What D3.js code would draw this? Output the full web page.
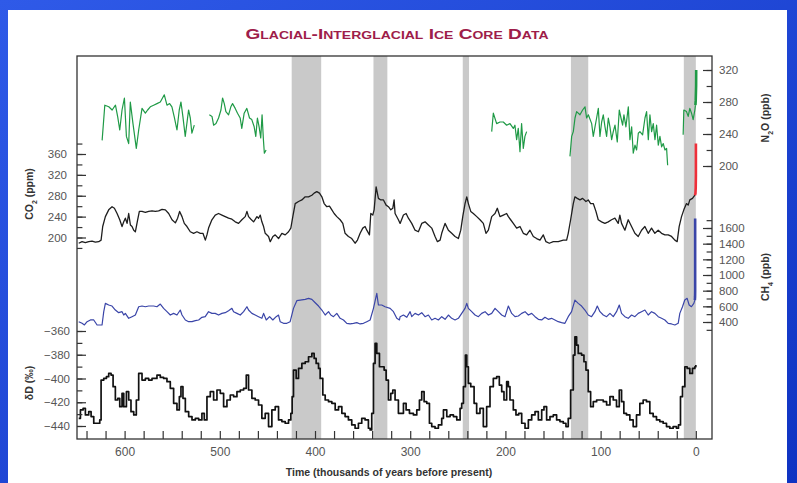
<!DOCTYPE html>
<html>
<head>
<meta charset="utf-8">
<script src="https://cdn.jsdelivr.net/npm/d3@7"></script>
<style>
  body { margin: 0; background: #1c3fd0; }
  svg { display: block; }
  text { font-family: "Liberation Sans", Arial, Helvetica, sans-serif; }
</style>
</head>
<body>
<svg id="chart" width="797" height="483"></svg>
<script>
// ---- Ice core records: [age (kyr BP), value] ----

// Atmospheric CO2 (ppm)
const co2 = [
[648.2,189],[644.7,192],[641.2,190],[637.7,192],[634.2,193],[630.7,191],[627.2,192],[624.7,195],[623.0,221],[620.2,240],[616.7,253],[613.2,259],[610.7,256],[607.9,246],[605.1,234],[602.7,221],[600.9,230],[599.2,237],[597.4,227],[595.7,246],[593.9,224],[592.2,221],[590.4,214],[588.7,211],[586.3,234],[584.5,250],[581.7,250],[578.2,248],[574.7,250],[571.2,251],[567.7,250],[564.2,251],[560.7,254],[557.2,253],[553.7,246],[550.2,234],[546.7,228],[544.3,237],[542.2,250],[539.7,240],[537.3,227],[534.5,221],[531.0,211],[527.5,208],[524.0,211],[520.5,208],[517.7,208],[515.2,195],[513.5,205],[511.8,218],[508.3,234],[504.8,243],[501.3,246],[497.8,243],[494.3,240],[490.8,237],[487.3,235],[483.8,230],[480.3,227],[476.8,234],[473.3,240],[471.5,250],[469.8,240],[467.3,235],[464.5,230],[461.0,240],[459.3,237],[457.5,243],[455.8,230],[454.0,221],[452.3,208],[448.8,202],[447.0,192],[444.2,202],[441.8,205],[438.3,198],[434.8,208],[431.3,205],[427.8,211],[425.4,218],[423.3,240],[420.8,265],[417.3,269],[413.8,272],[410.3,278],[406.8,278],[403.3,281],[400.9,285],[398.1,288],[395.3,285],[392.8,278],[390.4,265],[387.6,259],[384.8,260],[382.3,253],[379.9,246],[377.1,240],[373.6,234],[370.8,227],[368.4,208],[364.9,202],[361.4,198],[357.9,189],[355.4,195],[352.6,208],[349.8,218],[347.4,221],[345.6,214],[342.8,205],[341.4,246],[339.3,243],[337.9,253],[335.8,297],[333.4,275],[330.9,272],[328.1,272],[325.3,262],[322.9,259],[320.4,253],[318.3,256],[316.9,272],[315.9,246],[312.4,234],
[310.6,227],[307.1,243],[304.3,246],[301.9,237],[298.4,227],[294.9,214],[291.4,211],[287.9,227],[284.4,230],[280.9,224],[277.4,218],[273.9,202],[271.4,192],[268.6,195],[266.9,208],[263.4,227],[259.9,214],[256.4,208],[252.9,202],[249.4,198],[246.9,214],[244.8,240],[242.4,265],[240.6,278],[238.9,265],[236.4,250],[233.7,246],[230.1,240],[226.7,234],[223.2,227],[220.4,208],[217.9,214],[214.4,240],[210.9,246],[208.5,256],[205.7,240],[202.2,243],[198.7,246],[196.9,240],[194.5,234],[191.7,227],[188.2,218],[184.7,221],[181.2,208],[177.7,205],[174.2,214],[170.7,202],[167.2,198],[163.7,195],[160.2,205],[157.4,192],[153.9,189],[149.7,192],[144.5,192],[139.2,195],[135.7,195],[134.0,208],[131.5,234],[128.7,265],[127.0,278],[124.5,275],[121.7,272],[118.9,275],[115.4,269],[113.0,272],[110.5,265],[107.7,265],[104.9,250],[102.5,234],[99.0,230],[95.5,227],[92.0,230],[88.5,234],[85.0,237],[81.5,227],[79.8,243],[78.0,227],[74.5,214],[71.0,234],[67.5,221],[64.0,208],[60.5,202],[57.0,214],[53.5,221],[50.0,208],[46.5,218],[43.0,208],[39.5,214],[36.0,208],[32.5,205],[29.0,205],[25.5,202],[22.0,195],[19.6,192],[17.5,221],[15.0,240],[12.6,253],[9.8,265],[8.0,262],[6.3,272],[3.5,275],[1.0,281]
];
// Industrial-era CO2 (ppm)
const co2Recent = [[1.0,281],[0.4,284],[0.1,295],[-0.1,320],[-0.1,380]];

// Atmospheric CH4 (ppb)
const ch4 = [
[648.2,404],[644.7,383],[642.2,362],[639.4,404],[635.9,426],[632.4,426],[628.9,362],[623.7,362],[621.9,532],[620.2,638],[616.7,617],[613.2,604],[609.7,553],[606.2,519],[602.7,532],[600.9,489],[599.2,510],[595.7,447],[592.2,468],[588.7,489],[585.2,595],[581.7,604],[578.2,595],[574.7,604],[569.5,604],[566.0,595],[562.5,629],[559.0,574],[555.5,532],[552.0,489],[548.5,510],[545.0,489],[541.5,553],[539.7,489],[536.2,426],[532.7,404],[529.2,404],[525.7,417],[522.2,426],[518.8,460],[515.3,468],[511.8,532],[508.3,510],[504.8,510],[501.3,489],[497.8,510],[494.3,519],[490.8,545],[487.3,574],[485.5,532],[482.0,510],[478.5,489],[475.0,532],[471.5,595],[469.8,553],[466.3,510],[462.8,489],[459.3,468],[455.8,447],[454.0,510],[451.2,426],[447.7,468],[444.3,426],[440.8,468],[438.3,489],[436.6,404],[433.1,383],[429.6,383],[426.1,404],[422.6,574],[419.1,672],[415.6,680],[410.3,689],[406.8,702],[403.3,689],[399.8,646],[396.3,604],[392.8,553],[389.3,489],[385.8,532],[383.4,489],[380.6,468],[377.1,510],[373.6,447],[370.1,426],[366.6,383],[363.1,375],[359.6,383],[356.1,392],[352.6,375],[349.1,383],[345.6,404],[342.1,426],[338.6,574],[335.1,765],[333.4,617],[329.9,617],[326.4,595],[321.1,574],[317.6,532],[314.1,447],[311.3,426],
[310.6,468],[307.1,489],[303.6,460],[300.1,532],[298.4,468],[294.9,510],[291.4,489],[287.9,519],[284.4,468],[280.9,489],[277.4,426],[273.9,447],[270.4,426],[266.9,468],[263.4,434],[259.9,489],[256.4,447],[252.9,426],[249.4,447],[245.9,510],[242.4,574],[240.6,638],[238.9,574],[235.4,532],[231.9,489],[228.4,468],[224.9,510],[221.4,532],[217.9,489],[214.4,510],[210.9,574],[207.4,532],[203.9,489],[200.4,468],[196.9,604],[193.4,510],[189.9,468],[186.4,477],[182.9,510],[179.4,532],[175.9,489],[172.4,510],[168.9,468],[165.4,434],[161.9,426],[158.5,460],[155.0,434],[151.5,447],[148.0,426],[144.5,404],[141.0,392],[137.5,383],[134.0,468],[130.5,532],[127.0,680],[123.5,638],[120.0,604],[116.5,553],[113.0,489],[109.5,468],[106.0,532],[103.5,604],[100.7,532],[97.2,489],[93.7,468],[90.2,510],[86.7,468],[83.3,532],[80.4,617],[78.0,510],[74.5,468],[71.0,447],[67.5,489],[64.0,468],[60.5,510],[57.0,532],[53.5,553],[50.0,489],[46.5,532],[43.0,510],[39.5,468],[36.0,447],[32.5,426],[29.0,383],[25.5,375],[22.0,362],[18.5,383],[16.8,510],[14.0,595],[11.6,680],[9.1,702],[7.0,617],[4.6,595],[2.1,638],[1.0,680]
];
// Industrial-era CH4 (ppb)
const ch4Recent = [[1.0,680],[0.8,720],[0.7,800],[0.7,1720]];

// Atmospheric N2O (ppb); null marks a gap in the record
const n2o = [
[623.6,232],[620.8,276],[616.6,274],[613.1,270],[609.6,276],[607.2,261],[605.1,245],[602.7,270],[600.2,285],[598.1,237],[595.7,228],[594.0,280],[591.2,253],[587.7,222],[585.2,245],[581.7,272],[578.2,266],[575.8,270],[573.0,274],[569.5,276],[566.0,278],[562.5,280],[558.3,289],[555.5,276],[552.7,278],[550.3,274],[547.8,261],[545.0,245],[542.6,270],[540.8,280],[538.7,261],[536.3,237],[532.8,270],[531.0,260],[529.3,241],[526.8,251],
null,
[511.0,264],[508.2,262],[506.5,251],[504.0,253],[501.3,260],[498.8,270],[497.1,285],[495.3,278],[493.6,268],[490.8,264],[488.4,274],[486.6,278],[483.8,272],[481.4,266],[478.6,260],[476.9,247],[474.4,266],[471.6,272],[468.8,260],[466.4,258],[463.9,249],[462.2,237],[460.5,260],[458.7,249],[457.0,235],[455.6,264],[454.2,233],[453.2,216],[451.4,220],
null,
[214.4,243],[212.7,266],[209.2,253],[205.7,255],[202.2,255],[198.7,251],[195.2,253],[191.7,247],[190.0,251],[188.2,233],[186.5,247],[184.7,218],[183.0,253],[181.2,222],[179.5,237],[177.7,243],
null,
[132.2,212],[130.4,237],[128.7,243],[126.9,260],[125.2,268],[121.7,264],[118.9,270],[116.4,274],[114.7,260],[112.9,264],[109.4,253],[107.7,237],[105.9,249],[104.2,260],[102.4,272],[100.7,237],[98.9,255],[97.2,264],[95.4,249],[93.7,237],[91.9,260],[90.2,249],[88.4,233],[86.7,243],[84.9,251],[82.5,230],[80.4,270],[78.6,260],[76.9,251],[75.5,264],[73.4,249],[70.9,274],[69.2,233],[67.4,249],[65.7,216],[63.9,226],[62.2,220],[60.4,241],[58.7,243],[55.9,239],[53.4,260],[51.7,268],[49.9,233],[48.2,264],[46.4,243],[44.7,253],[42.9,233],[41.2,251],[39.4,226],[37.7,237],[35.9,224],[34.2,228],[32.4,220],[30.7,222],[29.6,201],
null,
[13.3,239],[12.6,270],[9.8,268],[8.0,262],[6.3,272],[4.5,266],[2.8,258],[1.0,270],[0.4,276]
];
// Industrial-era N2O (ppb)
const n2oRecent = [[0.4,276],[0.1,282],[-0.3,300],[-0.4,320]];

// Deuterium (δD, per mil), a proxy for local temperature
const dD = [
[648.2,-433.5],[646.4,-426.5],[643.6,-425.1],[641.2,-430.7],[637.7,-427.9],[635.2,-432.1],[632.4,-437.7],[628.9,-437.7],[626.1,-434.9],[624.7,-401.3],[621.9,-399.9],[619.1,-398.5],[616.7,-395.7],[614.2,-397.1],[612.1,-406.9],[609.7,-418.1],[607.2,-416.7],[605.1,-423.7],[602.7,-412.5],[600.9,-423.7],[598.1,-411.1],[595.7,-418.1],[593.3,-427.9],[590.4,-430.7],[587.7,-418.1],[585.2,-395.7],[581.7,-401.3],[578.2,-399.9],[574.7,-401.3],[571.2,-399.9],[566.0,-397.1],[562.5,-399.1],[559.0,-399.9],[555.5,-402.7],[552.0,-408.3],[548.5,-420.9],[545.0,-426.5],[542.5,-415.3],[540.8,-406.9],[538.7,-416.7],[536.2,-427.9],[532.7,-432.1],[529.2,-434.9],[525.7,-433.5],[522.2,-434.9],[518.8,-429.3],[516.3,-434.9],[513.5,-415.3],[510.0,-411.1],[506.5,-418.1],[503.0,-409.7],[499.5,-412.5],[496.0,-423.7],[492.5,-418.1],[489.0,-413.9],[485.5,-415.3],[482.0,-411.1],[478.5,-409.7],[475.0,-408.3],[472.2,-397.1],[469.8,-409.7],[466.3,-416.7],[462.8,-418.1],[459.3,-422.3],[455.8,-433.5],[452.3,-429.3],[448.8,-440.5],[445.3,-426.5],[441.8,-423.7],[438.3,-434.9],[434.8,-436.3],[431.3,-437.7],[427.8,-434.9],[425.4,-429.3],[424.0,-415.3],[422.6,-392.9],[419.8,-399.9],[417.3,-391.5],[413.8,-387.3],[410.3,-385.9],[406.8,-381.7],[403.3,-378.9],[400.9,-383.1],[398.8,-387.3],[396.3,-391.5],[394.6,-399.9],[391.8,-413.9],[389.3,-418.1],[385.8,-419.5],[382.3,-420.9],[378.8,-426.5],[375.3,-423.7],[371.8,-429.3],[368.4,-432.1],[364.9,-434.9],[361.4,-439.1],[357.9,-441.9],[354.4,-437.7],[350.9,-433.5],[347.4,-434.9],[343.9,-441.9],[342.1,-443.3],[340.4,-429.3],[338.6,-387.3],[336.9,-370.5],[335.1,-378.9],[332.3,-390.1],[329.9,-390.1],[327.4,-392.9],[325.3,-401.3],[322.9,-418.1],[320.4,-412.5],[318.3,-409.7],[315.9,-418.1],[312.4,-429.3],
[310.6,-429.3],[307.1,-420.9],[304.3,-426.5],[300.8,-429.3],[296.6,-430.7],[293.1,-426.5],[290.3,-418.1],[287.9,-411.1],[285.4,-419.5],[282.6,-420.9],[279.8,-437.7],[277.4,-440.5],[273.9,-441.9],[270.4,-439.1],[266.9,-433.5],[265.1,-426.5],[261.6,-432.1],[258.1,-430.7],[254.6,-432.1],[251.1,-434.9],[247.6,-425.1],[245.9,-420.9],[244.1,-406.9],[242.0,-380.3],[240.6,-390.1],[238.9,-404.1],[236.4,-406.9],[232.9,-420.9],[230.2,-429.3],[226.7,-425.1],[223.2,-440.5],[219.7,-423.7],[216.2,-406.9],[212.7,-399.9],[209.2,-398.5],[206.4,-405.5],[203.9,-411.1],[201.5,-418.1],[198.7,-402.7],[196.9,-406.9],[195.2,-418.1],[191.7,-426.5],[188.9,-430.7],[186.1,-429.3],[182.9,-437.7],[179.4,-441.9],[175.9,-434.9],[172.4,-430.7],[168.9,-427.9],[165.4,-434.9],[161.9,-426.5],[159.5,-423.7],[156.7,-434.9],[153.2,-432.1],[149.7,-430.7],[146.2,-434.9],[142.7,-436.3],[139.2,-437.7],[136.4,-440.5],[134.0,-433.5],[131.5,-409.7],[128.7,-380.3],[127.0,-364.9],[125.2,-371.9],[123.5,-378.9],[120.0,-380.3],[117.5,-385.9],[115.4,-392.9],[113.0,-411.1],[110.5,-423.7],[107.7,-419.5],[104.2,-418.1],[100.7,-418.1],[97.2,-419.5],[93.7,-422.3],[90.2,-415.3],[86.7,-418.1],[83.3,-423.7],[80.4,-409.7],[78.0,-419.5],[75.6,-429.3],[72.8,-430.7],[69.3,-434.9],[65.8,-440.5],[62.3,-430.7],[58.8,-420.9],[55.3,-418.1],[51.8,-419.5],[48.3,-429.3],[44.8,-432.1],[41.3,-434.9],[37.8,-436.3],[34.3,-437.7],[30.8,-440.5],[27.3,-441.9],[23.8,-440.5],[20.3,-441.9],[18.2,-439.1],[16.1,-415.3],[14.0,-406.9],[11.5,-390.1],[9.1,-391.5],[6.3,-395.7],[3.5,-391.5],[1.0,-390.1],[0.0,-388.7]
];

// Interglacial periods (kyr BP), shaded
const interglacials = [[424.5,393.5],[338.6,324.0],[244.8,238.2],[131.2,113.0],[12.6,0]];

// Axis ticks
const timeLabels = [600, 500, 400, 300, 200, 100, 0];
const timeTicks = d3.range(640, -1, -20);
const co2Labels = [200, 240, 280, 320, 360];
const co2Ticks = d3.range(180, 381, 20);
const dDLabels = [-440, -420, -400, -380, -360];
const dDTicks = d3.range(-440, -359, 10);
const n2oLabels = [200, 240, 280, 320];
const n2oTicks = d3.range(200, 321, 20);
const ch4Labels = [400, 600, 800, 1000, 1200, 1400, 1600];
const ch4Ticks = d3.range(300, 1701, 100);

// ---- Layout ----
const W = 797, H = 483;
const box = { left: 77, right: 712, top: 56, bottom: 439 };

const svg = d3.select('#chart');
const defs = svg.append('defs');
const grad = defs.append('linearGradient').attr('id', 'slideBg')
  .attr('x1', 0).attr('y1', 0).attr('x2', 1).attr('y2', 1);
grad.append('stop').attr('offset', '0%').attr('stop-color', '#2f5ae8');
grad.append('stop').attr('offset', '100%').attr('stop-color', '#0f33c2');
defs.append('clipPath').attr('id', 'plotClip').append('rect')
  .attr('x', box.left).attr('y', box.top)
  .attr('width', box.right - box.left).attr('height', box.bottom - box.top);

svg.append('rect').attr('width', W).attr('height', H).attr('fill', 'url(#slideBg)');
svg.append('rect').attr('x', 8).attr('y', 10).attr('width', 779).attr('height', H - 10).attr('fill', '#fff');

// Title
svg.append('text')
  .attr('x', 397).attr('y', 39)
  .attr('text-anchor', 'middle')
  .attr('font-size', 15).attr('font-weight', 'bold')
  .attr('font-variant', 'small-caps')
  .attr('fill', '#9e1d4a')
  .attr('textLength', 303).attr('lengthAdjust', 'spacingAndGlyphs')
  .text('Glacial-Interglacial Ice Core Data');

// ---- Scales ----
const x = d3.scaleLinear().domain([650, -17]).range([box.left, box.right]);
const yCO2 = d3.scaleLinear().domain([200, 360]).range([237.5, 154]);
const yCH4 = d3.scaleLinear().domain([400, 1600]).range([322, 228]);
const yN2O = d3.scaleLinear().domain([200, 320]).range([166, 70]);
const yDD  = d3.scaleLinear().domain([-440, -360]).range([426, 331]);

// Interglacial shading
svg.append('g').selectAll('rect').data(interglacials).join('rect')
  .attr('x', d => x(d[0]))
  .attr('width', d => x(d[1]) - x(d[0]))
  .attr('y', box.top).attr('height', box.bottom - box.top)
  .attr('fill', '#c9c9c9');

// ---- Series ----
const plot = svg.append('g').attr('clip-path', 'url(#plotClip)');
function drawLine(data, y, color, width, curve) {
  const line = d3.line()
    .defined(d => d !== null)
    .x(d => x(d[0])).y(d => y(d[1]))
    .curve(curve || d3.curveLinear);
  plot.append('path').datum(data)
    .attr('d', line)
    .attr('fill', 'none')
    .attr('stroke', color)
    .attr('stroke-width', width)
    .attr('stroke-linejoin', 'round');
}
drawLine(n2o, yN2O, '#1f9a46', 1.2);
drawLine(n2oRecent, yN2O, '#1f9a46', 2.6);
drawLine(co2, yCO2, '#1e1e1e', 1.3);
drawLine(co2Recent, yCO2, '#ee2f3a', 2.6);
drawLine(ch4, yCH4, '#3a45a8', 1.2);
drawLine(ch4Recent, yCH4, '#3a45a8', 2.6);
drawLine(dD, yDD, '#111', 1.7, d3.curveStepAfter);

// ---- Frame ----
svg.append('rect')
  .attr('x', box.left).attr('y', box.top)
  .attr('width', box.right - box.left).attr('height', box.bottom - box.top)
  .attr('fill', 'none').attr('stroke', '#333').attr('stroke-width', 1.3);

// ---- Axes ----
function styleAxis(g, fontSize) {
  g.select('.domain').remove();
  g.selectAll('line').attr('stroke', '#333').attr('stroke-width', 1.2);
  g.selectAll('text').attr('fill', '#555').attr('font-size', fontSize)
    .attr('font-family', '"Liberation Sans", Arial, sans-serif');
}
function axisPair(axisFn, scale, ticks, labels, pos, pad, len, attr, fontSize) {
  svg.append('g').attr('transform', attr)
    .call(axisFn(scale).tickValues(ticks).tickSize(-len * 0.6).tickFormat(''))
    .call(g => styleAxis(g, fontSize));
  svg.append('g').attr('transform', attr)
    .call(axisFn(scale).tickValues(labels).tickSize(-len).tickPadding(pad).tickFormat(d3.format('d')))
    .call(g => styleAxis(g, fontSize));
}
axisPair(d3.axisLeft, yCO2, co2Ticks, co2Labels, 'l', 10, 9, `translate(${box.left},0)`, 11.5);
axisPair(d3.axisLeft, yDD, dDTicks, dDLabels, 'l', 7, 9, `translate(${box.left},0)`, 11.5);
axisPair(d3.axisRight, yN2O, n2oTicks, n2oLabels, 'r', 7, 9, `translate(${box.right},0)`, 11.5);
axisPair(d3.axisRight, yCH4, ch4Ticks, ch4Labels, 'r', 7, 9, `translate(${box.right},0)`, 11.5);
// time axis: ticks every 20 kyr, labels every 100 kyr
svg.append('g').attr('transform', `translate(0,${box.bottom})`)
  .call(d3.axisBottom(x).tickValues(timeTicks).tickSize(-8).tickFormat(''))
  .call(g => styleAxis(g, 12));
svg.append('g').attr('transform', `translate(0,${box.bottom})`)
  .call(d3.axisBottom(x).tickValues(timeLabels).tickSize(0).tickPadding(8).tickFormat(d3.format('d')))
  .call(g => styleAxis(g, 12));

// ---- Axis titles ----
function vTitle(cx, cy, parts) {
  const t = svg.append('text')
    .attr('transform', `translate(${cx},${cy}) rotate(-90)`)
    .attr('text-anchor', 'middle')
    .attr('font-size', 10.5).attr('font-weight', 'bold').attr('fill', '#333');
  parts.forEach(p => {
    const s = t.append('tspan').text(p.t);
    if (p.sub) s.attr('font-size', 7).attr('baseline-shift', 'sub');
  });
}
vTitle(33, 194, [{ t: 'CO' }, { t: '2', sub: true }, { t: ' (ppm)' }]);
vTitle(33, 383, [{ t: 'δD (‰)' }]);
vTitle(769, 118, [{ t: 'N' }, { t: '2', sub: true }, { t: 'O (ppb)' }]);
vTitle(769, 277, [{ t: 'CH' }, { t: '4', sub: true }, { t: ' (ppb)' }]);

svg.append('text')
  .attr('x', 389).attr('y', 476)
  .attr('text-anchor', 'middle')
  .attr('font-size', 10.5).attr('font-weight', 'bold').attr('fill', '#333')
  .text('Time (thousands of years before present)');
</script>
</body>
</html>
